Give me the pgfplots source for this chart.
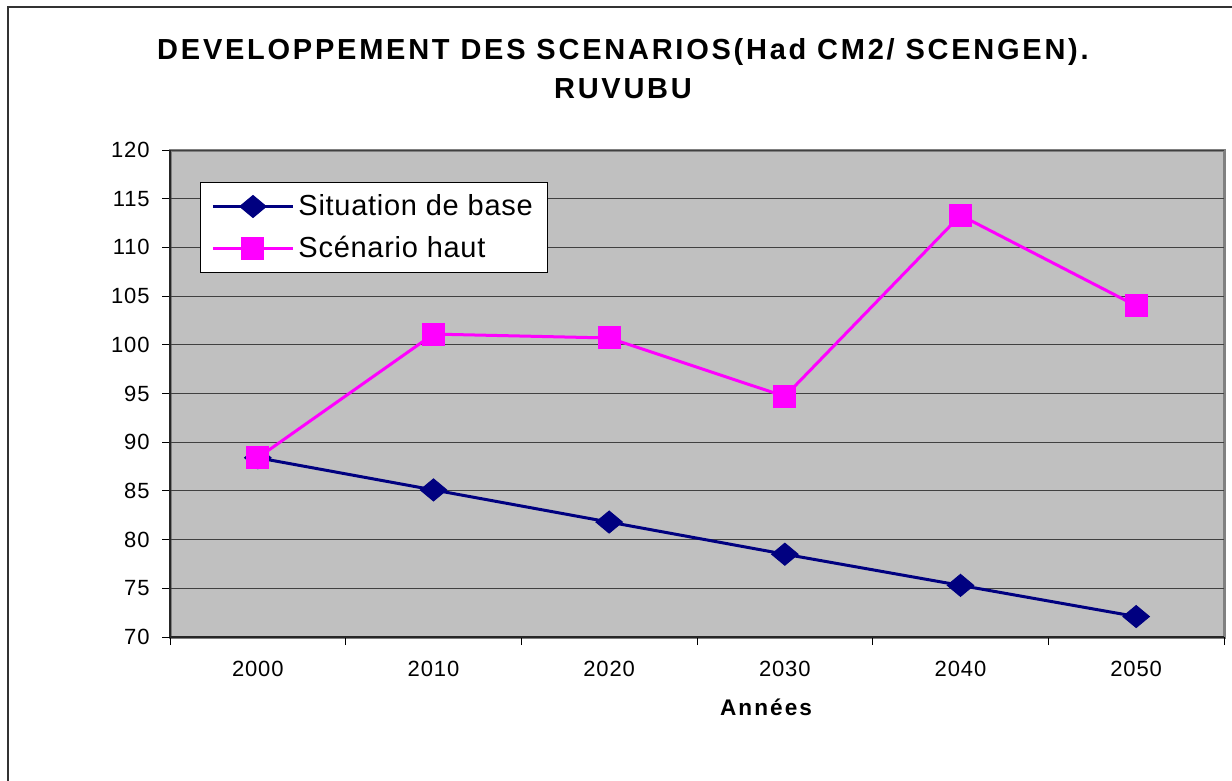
\documentclass[border=0pt]{standalone}
\usepackage{fontspec}
\setmainfont{Liberation Sans}
\newfontfamily\titlefont{Liberation Sans}[LetterSpace=9.5]
\newfontfamily\labfont{Liberation Sans}[LetterSpace=9]
\newfontfamily\tickfont{Liberation Sans}[LetterSpace=4]
\newfontfamily\legfont{Liberation Sans}[LetterSpace=2.5]
\usepackage{pgfplots}
\pgfplotsset{compat=1.18}
\definecolor{navyc}{HTML}{000080}
\definecolor{magc}{HTML}{FF00FF}
\definecolor{plotbg}{HTML}{C0C0C0}
\begin{document}
\begin{tikzpicture}
\useasboundingbox (0,0) rectangle (616pt,-390.5pt);
\draw[line width=1pt, black!80] (4pt,-392pt) -- (4pt,-3.5pt) -- (618pt,-3.5pt);
\node[font=\titlefont\fontsize{14.5pt}{17pt}\selectfont\bfseries, anchor=base, inner sep=0pt] at (311.5pt,-29.6pt) {DEVELOPPEMENT DES SCENARIOS(Had CM2/ SCENGEN).};
\node[font=\titlefont\fontsize{14.5pt}{17pt}\selectfont\bfseries, anchor=base, inner sep=0pt] at (311.5pt,-49.5pt) {RUVUBU};
\begin{axis}[
  at={(85pt,-318.5pt)}, anchor=south west,
  width=527pt, height=243.5pt, scale only axis,
  xmin=-0.5, xmax=5.5, ymin=70, ymax=120,
  ytick={70,75,...,120},
  xtick={-0.5,0.5,...,5.5}, xticklabels={},
  extra x ticks={0,1,2,3,4,5},
  extra x tick labels={2000,2010,2020,2030,2040,2050},
  extra x tick style={major tick length=0pt, grid=none},
  axis x line=bottom, axis y line=left,
  axis line style={-, black!85, line width=1pt},
  axis background/.style={fill=plotbg, draw=gray, line width=1.5pt},
  ymajorgrids, grid style={black!75, line width=0.5pt},
  major tick length=4pt, tick align=outside,
  tick style={black, line width=0.5pt},
  /pgf/number format/assume math mode=true,
  ticklabel style={font=\tickfont\fontsize{11pt}{13pt}\selectfont},
  yticklabel style={anchor=east, inner sep=0pt, xshift=-6pt},
  xticklabel style={anchor=base, inner sep=0pt, yshift=-19.5pt},
  xlabel={Années},
  xlabel style={at={(axis description cs:0.5655,0)}, anchor=base, inner sep=0pt, yshift=-39pt, font=\labfont\fontsize{11.3pt}{13pt}\selectfont\bfseries},
  legend style={at={(axis description cs:0.02846,0.9343)}, anchor=north west, fill=white, draw=black, line width=0.5pt,
    font=\legfont\fontsize{14.5pt}{17pt}\selectfont, inner xsep=5.5pt, inner ysep=4pt, row sep=5pt},
  legend cell align=left,
  legend image code/.code={\draw[#1, mark repeat=2, mark phase=2] plot coordinates {(0pt,0pt) (20pt,0pt) (40pt,0pt)};},
]
\addplot[navyc, line width=1.5pt, mark=diamond*, mark size=5.5pt, mark options={xscale=1.6, solid, fill=navyc, line width=0.5pt}]
  coordinates {(0,88.4) (1,85.1) (2,81.8) (3,78.5) (4,75.3) (5,72.1)};
\addlegendentry{Situation de base}
\addplot[magc, line width=1.5pt, mark=square*, mark size=5.5pt, mark options={solid, fill=magc, line width=0.5pt}]
  coordinates {(0,88.4) (1,101.1) (2,100.7) (3,94.7) (4,113.3) (5,104.0)};
\addlegendentry{Scénario haut}
\end{axis}
\end{tikzpicture}
\end{document}
